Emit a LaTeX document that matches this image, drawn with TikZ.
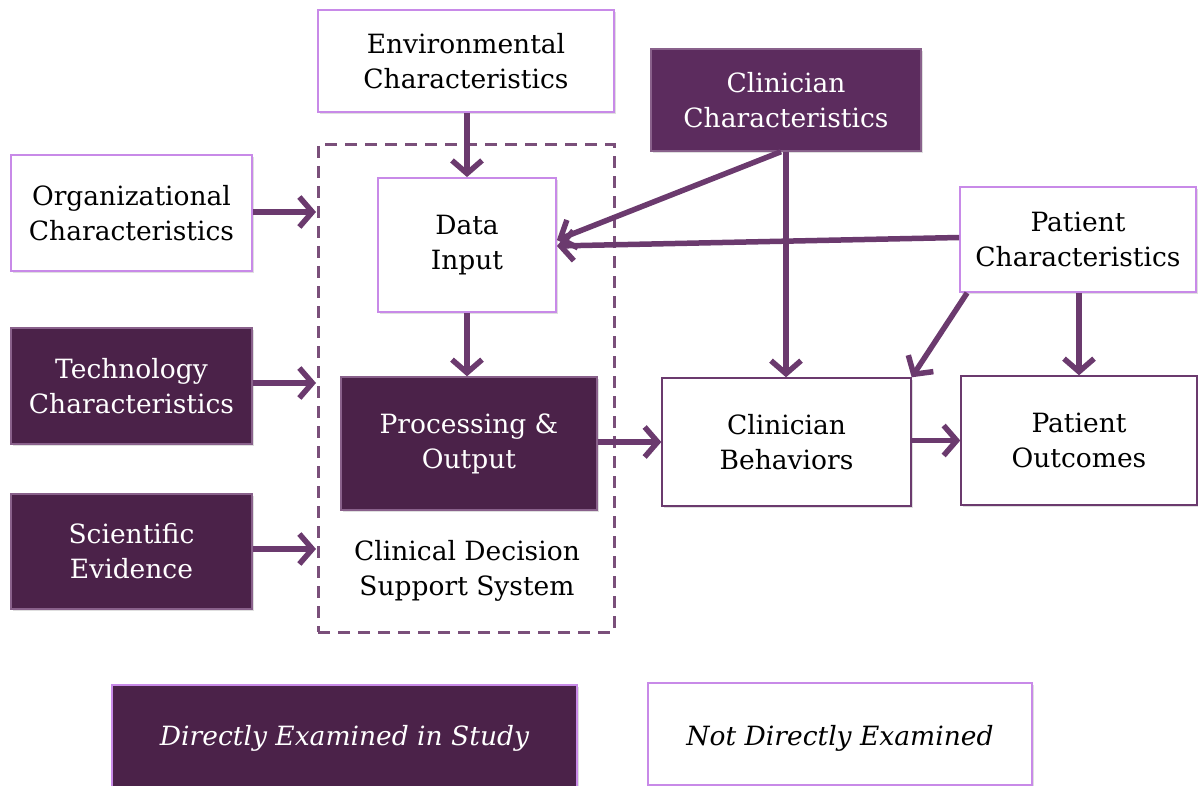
\documentclass[tikz,border=0pt]{standalone}
\usepackage{fontspec}
\setmainfont{DejaVu Serif}
\usetikzlibrary{arrows.meta,shadows}
\definecolor{dark}{HTML}{4B2249}
\definecolor{darkb}{HTML}{5C2C5E}
\definecolor{lightb}{HTML}{C88AE8}
\definecolor{arr}{HTML}{6B3A6E}
\definecolor{dashc}{HTML}{7A4F7A}
\tikzset{
  txt/.style={font=\fontsize{26.5}{35}\selectfont},
  box/.style={rectangle, align=center, txt, inner sep=0pt,
    drop shadow={shadow xshift=1.5pt, shadow yshift=-2pt, opacity=0.25}},
  wbox/.style={box, draw=lightb, line width=1.8pt, fill=white, text=black},
  dbox/.style={box, draw=arr!80!white, line width=1.4pt, fill=dark, text=white},
  conn/.style={draw=arr, line width=5.5pt, -{Straight Barb[length=13pt,width=30pt,line width=5.5pt]}},
}
\begin{document}
\begin{tikzpicture}[x=1pt,y=-1pt]
\useasboundingbox (0,0) rectangle (1198,786);
\begin{scope}
\clip (0,0) rectangle (1198,786);
% dashed system box
\node[draw=dashc, dash pattern=on 12pt off 8pt, line width=3pt, minimum width=296pt, minimum height=487pt, inner sep=0pt] (sys) at (466,388.5) {};
\node[align=center, txt] (cdss) at (467,571) {Clinical Decision\\Support System};

\node[wbox, minimum width=296pt, minimum height=102pt] (env) at (466,61) {Environmental\\Characteristics};
\node[dbox, fill=darkb, minimum width=270pt, minimum height=102pt] (cc) at (786,100) {Clinician\\Characteristics};
\node[wbox, minimum width=241pt, minimum height=116pt] (org) at (131.5,213) {Organizational\\Characteristics};
\node[wbox, minimum width=178pt, minimum height=134pt] (di) at (467,245) {Data\\Input};
\node[wbox, minimum width=236pt, minimum height=105pt] (pc) at (1078,239.5) {Patient\\Characteristics};
\node[dbox, minimum width=241pt, minimum height=116pt] (tech) at (131.5,386) {Technology\\Characteristics};
\node[dbox, minimum width=256pt, minimum height=133pt] (proc) at (469,443.5) {Processing \&\\Output};
\node[wbox, draw=arr, line width=1.4pt, minimum width=249pt, minimum height=128pt] (cb) at (786.5,442) {Clinician\\Behaviors};
\node[wbox, draw=arr, line width=1.4pt, minimum width=236pt, minimum height=129pt] (po) at (1079,440.5) {Patient\\Outcomes};
\node[dbox, minimum width=241pt, minimum height=115pt] (sci) at (131.5,551.5) {Scientific\\Evidence};

\node[dbox, draw=lightb, minimum width=465pt, minimum height=105pt] (leg1) at (344.5,737.5) {};
\node[txt, font=\fontsize{26.5}{35}\selectfont\itshape, text=white] (leg1t) at (344.5,738) {Directly Examined in Study};
\node[wbox, draw=lightb, minimum width=384pt, minimum height=102pt] (leg2) at (840,734) {};
\node[txt, font=\fontsize{26.5}{35}\selectfont\itshape] (leg2t) at (840,738) {Not Directly Examined};

\coordinate (orgend) at (316,212);
\coordinate (techend) at (316,383);
\coordinate (sciend) at (316,549);

\draw[conn] (org.east |- orgend) -- (orgend);
\draw[conn] (tech.east |- techend) -- (techend);
\draw[conn] (sci.east |- sciend) -- (sciend);
\draw[conn] (env.south -| di.north) -- (di.north);
\draw[conn] (di.south) -- (proc.north -| di.south);
\draw[conn] (proc.east |- cb.west) -- (cb.west);
\draw[conn] (cb.east |- po.west) -- (po.west);
\draw[conn] (cc.south) -- (cb.north -| cc.south);
\draw[conn] ([xshift=-5pt]cc.south) -- ([yshift=5pt]di.east);
\draw[conn] ([yshift=2pt]pc.west) -- ([yshift=-1pt]di.east);
\draw[conn] ([xshift=8pt]pc.south west) -- (cb.north east);
\draw[conn] (pc.south -| po.north) -- (po.north);
\end{scope}
\end{tikzpicture}
\end{document}
